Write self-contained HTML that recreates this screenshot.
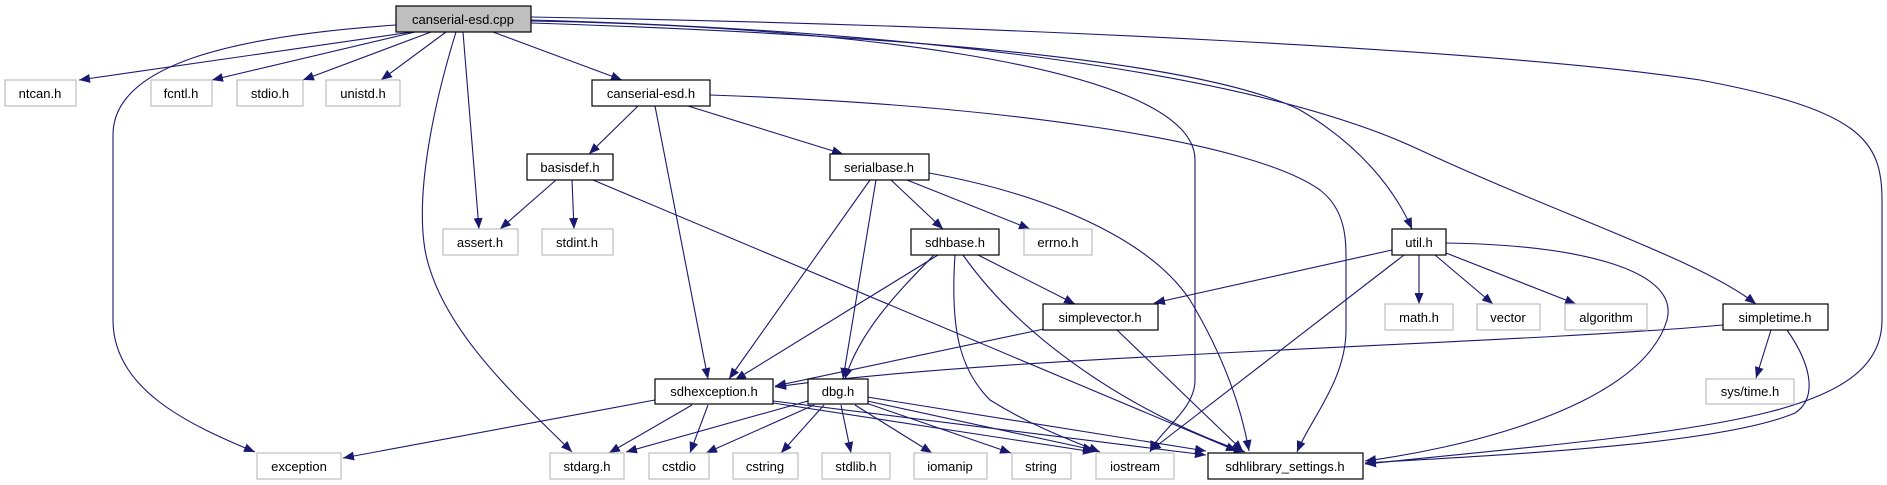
<!DOCTYPE html>
<html><head><meta charset="utf-8"><style>
html,body{margin:0;padding:0;background:#fff;}
svg{display:block;}
text{font-family:"Liberation Sans",sans-serif;font-size:13px;fill:#000;text-anchor:middle;}
.e{fill:none;stroke:#191970;stroke-width:1.1;marker-end:url(#a);}
.b{fill:#fff;stroke:#000;stroke-width:1.2;}
.g{fill:#fff;stroke:#bfbfbf;stroke-width:1.2;}
</style></head><body>
<svg width="1887" height="485" viewBox="0 0 1887 485" xmlns="http://www.w3.org/2000/svg">
<defs><marker id="a" markerUnits="userSpaceOnUse" markerWidth="12" markerHeight="10" refX="11" refY="4.5" orient="auto"><polygon points="0,0 11,4.5 0,9" fill="#191970"/></marker></defs>
<g>
<path class="e" d="M412,32 L79,80"/>
<path class="e" d="M415,32 L212,80"/>
<path class="e" d="M431,32 L303,80"/>
<path class="e" d="M446,32 L381,80"/>
<path class="e" d="M396,25 C250,35 113,60 113,135 L113,320 C113,390 190,425 255,452"/>
<path class="e" d="M456,32 C435,100 415,190 425,250 C440,330 520,400 572,452"/>
<path class="e" d="M463,32 L479,229"/>
<path class="e" d="M493,32 L622,80"/>
<path class="e" d="M531,21 C800,25 1195,60 1195,160 L1195,380 C1195,410 1160,430 1150,452"/>
<path class="e" d="M531,23 C900,35 1200,60 1300,110 C1360,145 1395,190 1412,229"/>
<path class="e" d="M531,20 C900,30 1250,70 1420,150 C1560,215 1700,260 1756,304"/>
<path class="e" d="M531,17 C1000,25 1500,50 1700,80 C1860,110 1882,140 1882,200 L1882,320 C1882,420 1700,430 1365,464"/>
<path class="e" d="M638,106 L589,154"/>
<path class="e" d="M655,106 L708,379"/>
<path class="e" d="M688,106 L843,154"/>
<path class="e" d="M710,95 C1000,105 1250,140 1320,190 C1346,210 1346,240 1346,260 L1346,330 C1346,380 1310,420 1297,452"/>
<path class="e" d="M556,180 L500,229"/>
<path class="e" d="M572,180 L574,229"/>
<path class="e" d="M593,180 L1237,451"/>
<path class="e" d="M891,180 L943,229"/>
<path class="e" d="M907,180 L1030,229"/>
<path class="e" d="M870,180 L729,379"/>
<path class="e" d="M876,180 L843,379"/>
<path class="e" d="M929,173 C1050,195 1150,240 1190,300 C1220,350 1240,400 1249,451"/>
<path class="e" d="M938,255 L735,380"/>
<path class="e" d="M934,255 C900,290 860,330 845,379"/>
<path class="e" d="M955,255 C950,330 960,370 990,400 C1030,425 1070,440 1100,452"/>
<path class="e" d="M963,255 C1030,350 1150,420 1245,452"/>
<path class="e" d="M978,255 L1075,304"/>
<path class="e" d="M1044,329 L775,386"/>
<path class="e" d="M1117,330 L1243,451"/>
<path class="e" d="M1392,250 L1154,303"/>
<path class="e" d="M1404,255 L1150,451"/>
<path class="e" d="M1419,255 L1419,304"/>
<path class="e" d="M1435,255 L1493,304"/>
<path class="e" d="M1446,253 L1576,304"/>
<path class="e" d="M1446,243 C1580,245 1680,270 1667,320 C1640,410 1450,450 1365,461"/>
<path class="e" d="M1723,325 C1500,345 1000,355 775,387"/>
<path class="e" d="M1771,330 L1756,378"/>
<path class="e" d="M1787,330 C1815,370 1815,400 1795,413 C1720,445 1500,455 1365,463"/>
<path class="e" d="M655,400 L343,458"/>
<path class="e" d="M692,405 L609,453"/>
<path class="e" d="M708,405 L690,453"/>
<path class="e" d="M773,403 L1094,452"/>
<path class="e" d="M773,401 L1206,455"/>
<path class="e" d="M808,401 L626,452"/>
<path class="e" d="M814,405 L706,453"/>
<path class="e" d="M824,405 L781,453"/>
<path class="e" d="M841,405 L851,453"/>
<path class="e" d="M855,405 L932,453"/>
<path class="e" d="M866,403 L1011,453"/>
<path class="e" d="M867,401 L1094,450"/>
<path class="e" d="M867,397 L1206,451"/>
</g>
<g>
<rect x="396" y="6" width="135" height="26" fill="#bfbfbf" stroke="#000" stroke-width="1.2"/><text x="463" y="24">canserial-esd.cpp</text>
<rect class="g" x="5" y="80" width="71" height="26"/><text x="40" y="98">ntcan.h</text>
<rect class="g" x="151" y="80" width="61" height="26"/><text x="181" y="98">fcntl.h</text>
<rect class="g" x="237" y="80" width="66" height="26"/><text x="270" y="98">stdio.h</text>
<rect class="g" x="326" y="80" width="74" height="26"/><text x="363" y="98">unistd.h</text>
<rect class="b" x="592" y="80" width="118" height="26"/><text x="651" y="98">canserial-esd.h</text>
<rect class="b" x="527" y="154" width="86" height="26"/><text x="570" y="172">basisdef.h</text>
<rect class="b" x="830" y="154" width="99" height="26"/><text x="879" y="172">serialbase.h</text>
<rect class="g" x="443" y="229" width="75" height="26"/><text x="480" y="247">assert.h</text>
<rect class="g" x="542" y="229" width="71" height="26"/><text x="577" y="247">stdint.h</text>
<rect class="b" x="911" y="229" width="88" height="26"/><text x="955" y="247">sdhbase.h</text>
<rect class="g" x="1024" y="229" width="68" height="26"/><text x="1058" y="247">errno.h</text>
<rect class="b" x="1392" y="229" width="54" height="26"/><text x="1419" y="247">util.h</text>
<rect class="b" x="1043" y="304" width="115" height="26"/><text x="1100" y="322">simplevector.h</text>
<rect class="g" x="1385" y="304" width="68" height="26"/><text x="1419" y="322">math.h</text>
<rect class="g" x="1477" y="304" width="63" height="26"/><text x="1508" y="322">vector</text>
<rect class="g" x="1565" y="304" width="82" height="26"/><text x="1606" y="322">algorithm</text>
<rect class="b" x="1723" y="304" width="105" height="26"/><text x="1775" y="322">simpletime.h</text>
<rect class="b" x="655" y="379" width="118" height="25"/><text x="714" y="396">sdhexception.h</text>
<rect class="b" x="808" y="379" width="60" height="25"/><text x="838" y="396">dbg.h</text>
<rect class="g" x="1706" y="379" width="88" height="25"/><text x="1750" y="396">sys/time.h</text>
<rect class="g" x="257" y="453" width="84" height="26"/><text x="299" y="471">exception</text>
<rect class="g" x="550" y="453" width="74" height="26"/><text x="587" y="471">stdarg.h</text>
<rect class="g" x="649" y="453" width="60" height="26"/><text x="679" y="471">cstdio</text>
<rect class="g" x="733" y="453" width="65" height="26"/><text x="765" y="471">cstring</text>
<rect class="g" x="822" y="453" width="68" height="26"/><text x="856" y="471">stdlib.h</text>
<rect class="g" x="914" y="453" width="73" height="26"/><text x="950" y="471">iomanip</text>
<rect class="g" x="1012" y="453" width="59" height="26"/><text x="1041" y="471">string</text>
<rect class="g" x="1096" y="453" width="78" height="26"/><text x="1135" y="471">iostream</text>
<rect class="b" x="1208" y="453" width="155" height="26"/><text x="1285" y="471">sdhlibrary_settings.h</text>
</g>
</svg>
</body></html>
